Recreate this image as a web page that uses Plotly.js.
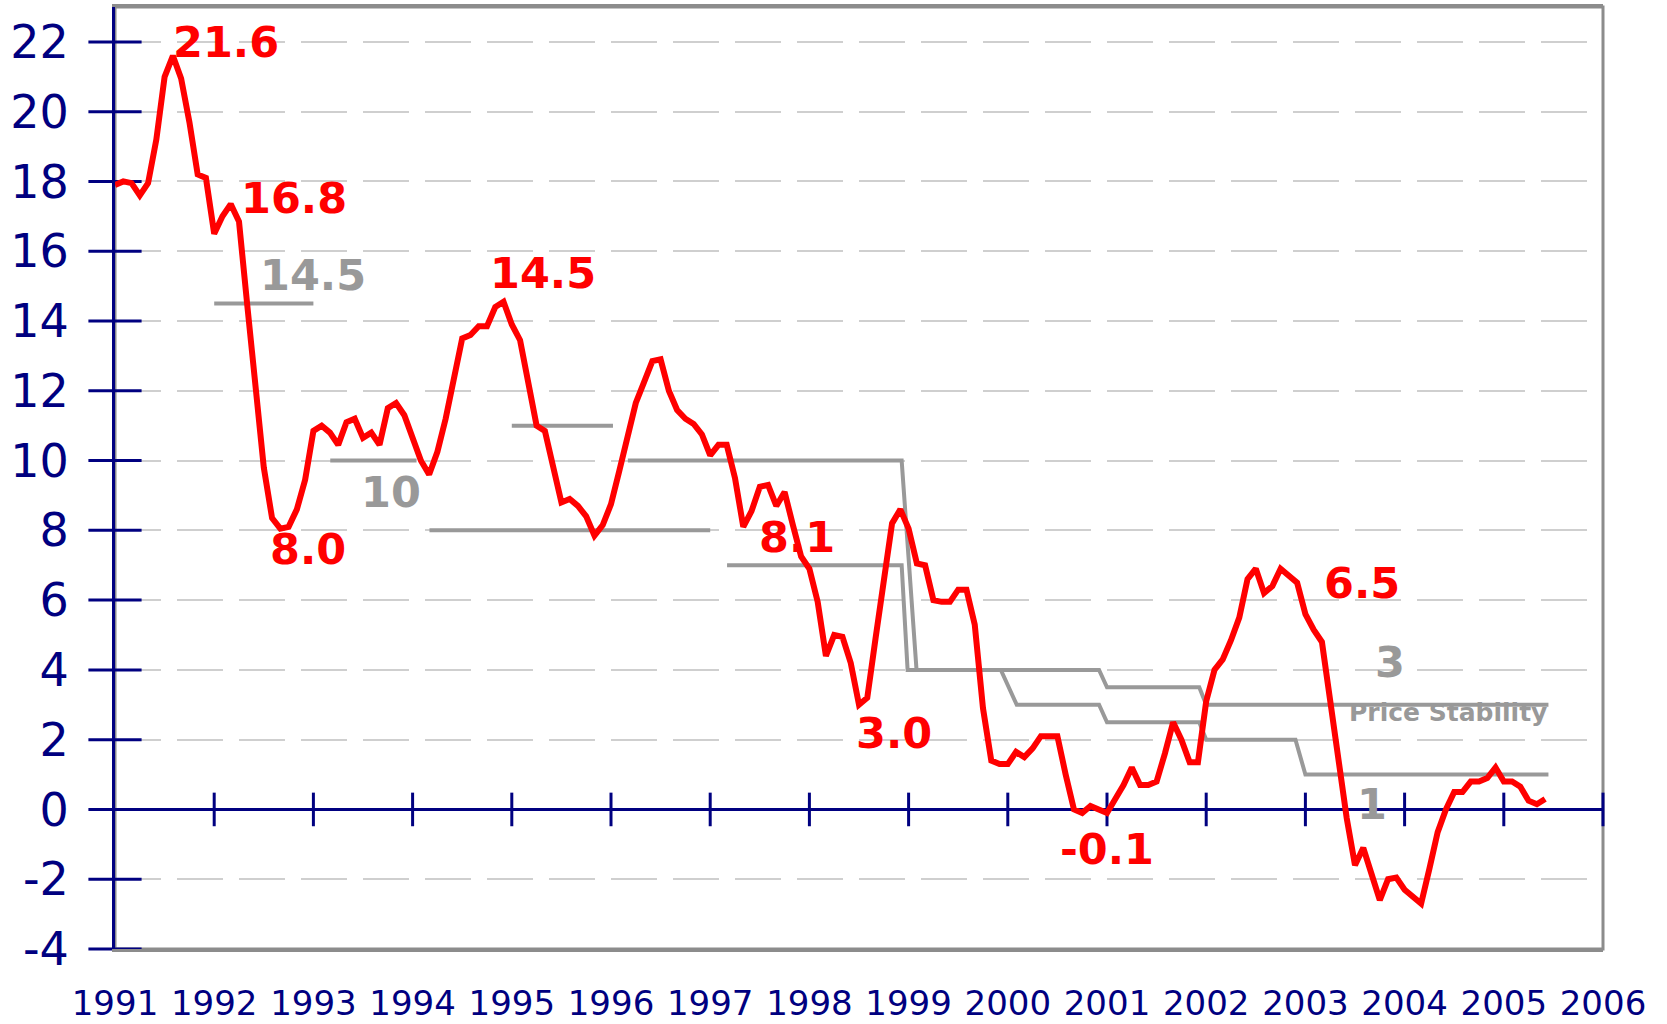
<!DOCTYPE html>
<html lang="en">
  <head>
    <meta charset="UTF-8" />
    <title>Inflation and targets 1991-2005</title>
    <script src="https://cdn.jsdelivr.net/npm/plotly.js-dist-min/plotly.min.js"></script>
    <style>
      body { margin: 0; background: #fff; }
    </style>
  </head>
  <body>
    <div id="chart" style="width: 1667px; height: 1024px;"></div>
    <script>
      // monthly inflation (%), Jan 1991 .. Jun 2005, one row per year
      const inflation = [
        17.9, 18.0, 17.95, 17.6, 17.95, 19.2, 21.0, 21.6, 20.95, 19.7, 18.2, 18.1,     // 1991
        16.5, 17.0, 17.35, 16.85, 14.45, 12.2, 9.8, 8.35, 8.05, 8.1, 8.6, 9.45,        // 1992
        10.85, 11.0, 10.8, 10.45, 11.1, 11.2, 10.65, 10.8, 10.45, 11.5, 11.65, 11.3,   // 1993
        10.65, 10.0, 9.6, 10.25, 11.2, 12.35, 13.5, 13.6, 13.85, 13.85, 14.4, 14.55,   // 1994
        13.9, 13.45, 12.3, 11.0, 10.85, 9.8, 8.8, 8.9, 8.7, 8.4, 7.85, 8.15,           // 1995
        8.75, 9.7, 10.75, 11.65, 12.25, 12.85, 12.9, 12.0, 11.45, 11.2, 11.05, 10.75,  // 1996
        10.15, 10.45, 10.45, 9.5, 8.1, 8.55, 9.25, 9.3, 8.7, 9.1, 8.15, 7.25,          // 1997
        6.9, 5.95, 4.4, 5.0, 4.95, 4.2, 3.0, 3.2, 4.9, 6.6, 8.2, 8.6,                  // 1998
        8.05, 7.05, 7.0, 6.0, 5.95, 5.95, 6.3, 6.3, 5.3, 2.9, 1.4, 1.3,                // 1999
        1.3, 1.65, 1.5, 1.75, 2.1, 2.1, 2.1, 1.0, 0.0, -0.1, 0.1, 0.0,                 // 2000
        -0.1, 0.3, 0.7, 1.2, 0.7, 0.7, 0.8, 1.6, 2.5, 2.0, 1.35, 1.35,                 // 2001
        3.1, 4.0, 4.3, 4.85, 5.5, 6.6, 6.9, 6.2, 6.4, 6.9, 6.7, 6.5,                   // 2002
        5.6, 5.15, 4.8, 3.1, 1.2, -0.25, -1.6, -1.1, -1.85, -2.6, -2.0, -1.95,         // 2003
        -2.3, -2.5, -2.7, -1.7, -0.65, 0.0, 0.5, 0.5, 0.8, 0.8, 0.9, 1.2,              // 2004
        0.8, 0.8, 0.65, 0.25, 0.15, 0.3                                                // 2005
      ];
      const months = inflation.map((_, i) => 1991 + i / 12);

      // annual targets before the band
      const target1992X = [1992.0, 1993.0];
      const target1992Y = [14.5, 14.5];
      const target1993X = [1993.17, 1994.04];
      const target1993Y = [10, 10];
      const target1994X = [1994.17, 1997.0];
      const target1994Y = [8, 8];
      const target1995X = [1995.0, 1996.02];
      const target1995Y = [11, 11];

      // target band, upper and lower edge
      const bandUpperX = [1996.17, 1998.93, 1999.08, 2000.92, 2001.0, 2001.93, 2002.0, 2005.45];
      const bandUpperY = [10, 10, 4, 4, 3.5, 3.5, 3, 3];
      const bandLowerX = [1997.17, 1998.93, 1998.99, 1999.93, 2000.09, 2000.92, 2001.0, 2001.93, 2002.0, 2002.9, 2003.0, 2005.45];
      const bandLowerY = [7, 7, 4, 4, 3, 3, 2.5, 2.5, 2, 2, 1, 1];

      const years = [1991, 1992, 1993, 1994, 1995, 1996, 1997, 1998, 1999, 2000, 2001, 2002, 2003, 2004, 2005, 2006];
      const yTicks = [-4, -2, 0, 2, 4, 6, 8, 10, 12, 14, 16, 18, 20, 22];

      const navy = '#000080';
      const grey = '#999999';
      const red = '#ff0000';
      const font = 'DejaVu Sans, Verdana, sans-serif';

      function targetTrace(x, y) {
          return {
              x: x, y: y, type: 'scatter', mode: 'lines',
              line: { color: grey, width: 4 },
              hoverinfo: 'skip', showlegend: false
          };
      }

      const traces = [
          targetTrace(target1992X, target1992Y),
          targetTrace(target1993X, target1993Y),
          targetTrace(target1994X, target1994Y),
          targetTrace(target1995X, target1995Y),
          targetTrace(bandUpperX, bandUpperY),
          targetTrace(bandLowerX, bandLowerY),
          {
              // tick marks crossing the y axis
              x: yTicks.map(() => 1991), y: yTicks,
              type: 'scatter', mode: 'markers', cliponaxis: false,
              marker: { symbol: 'line-ew', size: 38, line: { color: navy, width: 3 } },
              hoverinfo: 'skip', showlegend: false
          },
          {
              // tick marks crossing the zero line
              x: years.slice(1), y: years.slice(1).map(() => 0),
              type: 'scatter', mode: 'markers', cliponaxis: false,
              marker: { symbol: 'line-ns', size: 24, line: { color: navy, width: 3 } },
              hoverinfo: 'skip', showlegend: false
          },
          {
              x: months, y: inflation, type: 'scatter', mode: 'lines',
              line: { color: red, width: 6 },
              name: 'Inflation', showlegend: false
          }
      ];

      function label(text, x, y, color, size) {
          return {
              text: '<b>' + text + '</b>', x: x, y: y, xref: 'x', yref: 'y',
              showarrow: false, xanchor: 'center', yanchor: 'middle',
              font: { family: font, size: size || 43, color: color }
          };
      }

      const layout = {
          width: 1667,
          height: 1024,
          margin: { l: 115, r: 64, t: 7, b: 75 },
          paper_bgcolor: '#ffffff',
          plot_bgcolor: '#ffffff',
          showlegend: false,
          xaxis: {
              range: [1991, 2006],
              tickvals: years,
              ticktext: years.map(String),
              ticks: '',
              showgrid: false,
              zeroline: false,
              showline: true,
              linecolor: '#8c8c8c',
              linewidth: 3,
              mirror: true,
              ticklabelstandoff: 22,
              tickfont: { family: font, size: 34, color: navy }
          },
          yaxis: {
              range: [-4, 23],
              tickvals: yTicks,
              ticktext: yTicks.map(String),
              ticks: '',
              showgrid: true,
              gridcolor: '#cfcfcf',
              gridwidth: 2,
              griddash: '46px,16px',
              zeroline: true,
              zerolinecolor: navy,
              zerolinewidth: 3,
              showline: true,
              linecolor: navy,
              linewidth: 3,
              ticklabelstandoff: 34,
              tickfont: { family: font, size: 46, color: navy }
          },
          shapes: [
              {
                  type: 'rect', xref: 'paper', yref: 'paper', x0: 0, x1: 1, y0: 0, y1: 1,
                  line: { color: '#8c8c8c', width: 3 }, layer: 'below'
              }
          ],
          annotations: [
              label('21.6', 1992.12, 22.0, red),
              label('16.8', 1992.80, 17.52, red),
              label('8.0', 1992.95, 7.46, red),
              label('14.5', 1995.31, 15.37, red),
              label('8.1', 1997.87, 7.8, red),
              label('3.0', 1998.85, 2.2, red),
              label('-0.1', 2001.0, -1.14, red),
              label('6.5', 2003.57, 6.48, red),
              label('14.5', 1993.0, 15.33, grey),
              label('10', 1993.78, 9.09, grey),
              label('3', 2003.85, 4.23, grey),
              label('1', 2003.67, 0.17, grey),
              label('Price Stability', 2004.44, 2.77, grey, 25)
          ]
      };

      Plotly.newPlot('chart', traces, layout, { displayModeBar: false, staticPlot: true });
    </script>
  </body>
</html>
